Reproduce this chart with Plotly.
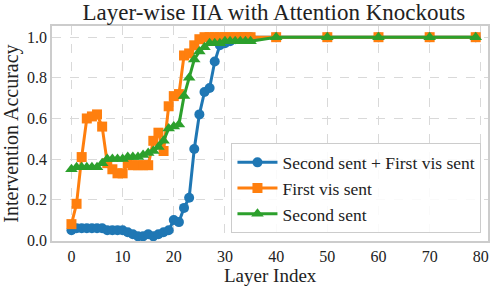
import plotly.graph_objects as go

layers = list(range(0, 36)) + [40, 50, 60, 70, 79]

both_knockout = [0.05, 0.06, 0.06, 0.06, 0.06, 0.06, 0.06, 0.05, 0.05, 0.05,
                 0.05, 0.04, 0.03, 0.02, 0.02, 0.03, 0.02, 0.03, 0.04, 0.05,
                 0.10, 0.09, 0.16, 0.21, 0.45, 0.62, 0.73, 0.75, 0.88, 0.96,
                 0.97, 0.98, 0.99, 1.00, 1.00, 1.00, 1.00, 1.00, 1.00, 1.00, 1.00]

first_vis = [0.08, 0.18, 0.41, 0.60, 0.61, 0.62, 0.56, 0.38, 0.35, 0.33,
             0.33, 0.38, 0.37, 0.37, 0.37, 0.37, 0.49, 0.53, 0.44, 0.66,
             0.71, 0.72, 0.91, 0.92, 0.96, 0.99, 1.00, 1.00, 1.00, 1.00,
             1.00, 1.00, 1.00, 1.00, 1.00, 1.00, 1.00, 1.00, 1.00, 1.00, 1.00]

second_sent = [0.35, 0.36, 0.36, 0.36, 0.36, 0.36, 0.38, 0.40, 0.40, 0.40,
               0.40, 0.41, 0.41, 0.41, 0.42, 0.43, 0.44, 0.46, 0.49, 0.55,
               0.56, 0.57, 0.71, 0.80, 0.89, 0.93, 0.95, 0.97, 0.97, 0.97,
               0.98, 0.98, 0.98, 0.98, 0.98, 0.98, 1.00, 1.00, 1.00, 1.00, 1.00]

series_names = ["Second sent + First vis sent", "First vis sent", "Second sent"]
colors = ["#1f77b4", "#ff7f0e", "#2ca02c"]
symbols = ["circle", "square", "triangle-up"]
sizes = [10, 10, 11]

x_title = "Layer Index"
y_title = "Intervention Accuracy"
chart_title = "Layer-wise IIA with Attention Knockouts"

FONT = "Liberation Serif"

fig = go.Figure()
for name, ys, c, s, sz in zip(series_names, [both_knockout, first_vis, second_sent],
                              colors, symbols, sizes):
    fig.add_trace(go.Scatter(
        x=layers, y=ys, name=name, mode="lines+markers",
        line=dict(color=c, width=3),
        marker=dict(color=c, symbol=s, size=sz, line=dict(width=0)),
    ))

axis_common = dict(
    showgrid=True, gridcolor="#d9d9d9", griddash="dash", gridwidth=1,
    showline=True, linecolor="#cccccc", linewidth=1.5, mirror=True,
    zeroline=False, ticks="", automargin=False,
    tickfont=dict(family=FONT, size=16, color="#222222"),
)

fig.update_layout(
    width=498, height=286,
    margin=dict(l=52, r=10, t=26, b=45),
    paper_bgcolor="white", plot_bgcolor="white",
    font=dict(family=FONT, color="#222222", size=17),
    title=dict(text=chart_title,
               font=dict(family=FONT, size=23, color="#222222"),
               x=0.509, xref="paper", xanchor="center",
               y=1 - 12 / 286, yref="container", yanchor="middle"),
    xaxis=dict(range=[-3.8, 81.4], tickvals=[0, 10, 20, 30, 40, 50, 60, 70, 80],
               **axis_common),
    yaxis=dict(range=[-0.003, 1.055], tickvals=[0.0, 0.2, 0.4, 0.6, 0.8, 1.0],
               tickformat=".1f",
               title=dict(text=y_title, font=dict(family=FONT, size=20), standoff=5),
               **axis_common),
    legend=dict(x=0.985, y=0.035, xanchor="right", yanchor="bottom",
                bgcolor="rgba(255,255,255,0.85)", bordercolor="#cccccc", borderwidth=1,
                font=dict(family=FONT, size=17.5, color="#222222"),
                tracegroupgap=0, itemwidth=40),
    showlegend=True,
    annotations=[dict(text=x_title, xref="paper", yref="paper", x=0.5, y=0,
                      xanchor="center", yanchor="top", yshift=-23, borderpad=0,
                      showarrow=False,
                      font=dict(family=FONT, size=19, color="#222222"))],
)

fig.write_html("out.html",
               config={"displayModeBar": False},
               post_script="document.body.style.margin='0';document.body.style.overflow='hidden';")
